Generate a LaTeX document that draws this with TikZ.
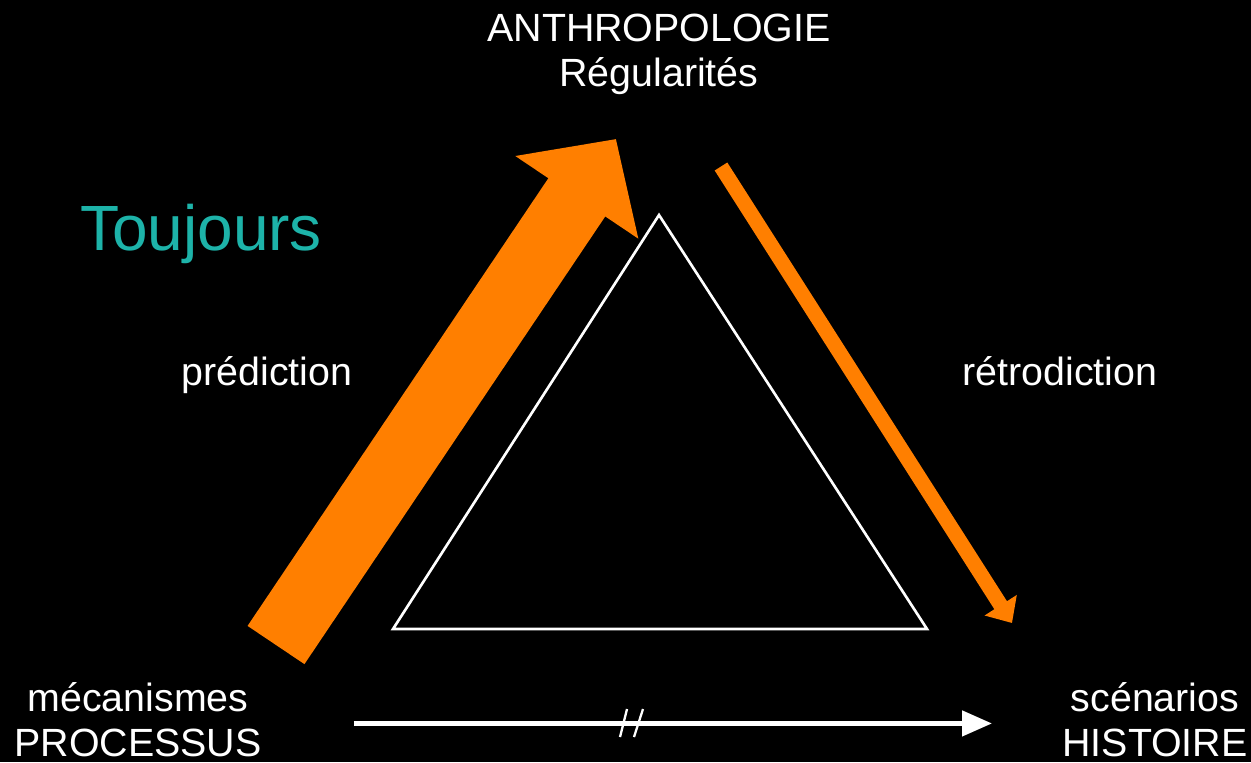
\documentclass[tikz,border=0pt]{standalone}
\usepackage{fontspec}
\setmainfont{Liberation Sans}
\usetikzlibrary{arrows.meta}
\definecolor{c1}{HTML}{FF7F00}
\definecolor{c2}{HTML}{1DB3A9}

\tikzset{
    lbl/.style={text=white, inner sep=0pt, align=center, font=\fontsize{22.4}{25.5}\selectfont},
}

\begin{document}
\begin{tikzpicture}[x=0.02cm, y=-0.02cm]
    \path[use as bounding box, fill=black] (0,0) rectangle (1251,762);
    % labels
    \node[lbl, anchor=north] (anthro) at (659,13.5) {ANTHROPOLOGIE\\Régularités};
    \node[lbl, anchor=north] (processus) at (138,682) {mécanismes\\PROCESSUS};
    \node[lbl, anchor=north] (histoire) at (1155,682) {scénarios\\HISTOIRE};
    \node[lbl, anchor=base] (prediction) at (267,385) {prédiction};
    \node[lbl, anchor=base] (retrodiction) at (1060,385) {rétrodiction};
    \node[lbl, anchor=base, text=c2, font=\fontsize{36.4}{42}\selectfont] (toujours) at (201,250) {Toujours};

    \draw[white, line width=1.5pt] (659,215) coordinate (top) -- (393,629) coordinate (left)
        -- (927,629) coordinate (right) -- cycle;

    \coordinate (ptail) at (276,645);
    \coordinate (ptip) at (616,139);
    \draw[c1, line width=39pt, -{Triangle[length=40pt, width=82pt]}] (ptail) -- (ptip);
    \coordinate (rtail) at (721,166.5);
    \coordinate (rtip) at (1012,623);
    \draw[c1, line width=8.5pt, -{Triangle[length=12pt, width=21pt]}] (rtail) -- (rtip);

    \draw[white, line width=3pt, -{Triangle[length=17pt, width=14pt]}]
        ([xshift=1.84cm, yshift=-0.08cm]processus.east) -- ([xshift=-1.40cm, yshift=-0.08cm]histoire.west);
    \draw[white, line width=1.3pt] (627,709) -- (620,737) (643,709) -- (634,737);
\end{tikzpicture}
\end{document}
